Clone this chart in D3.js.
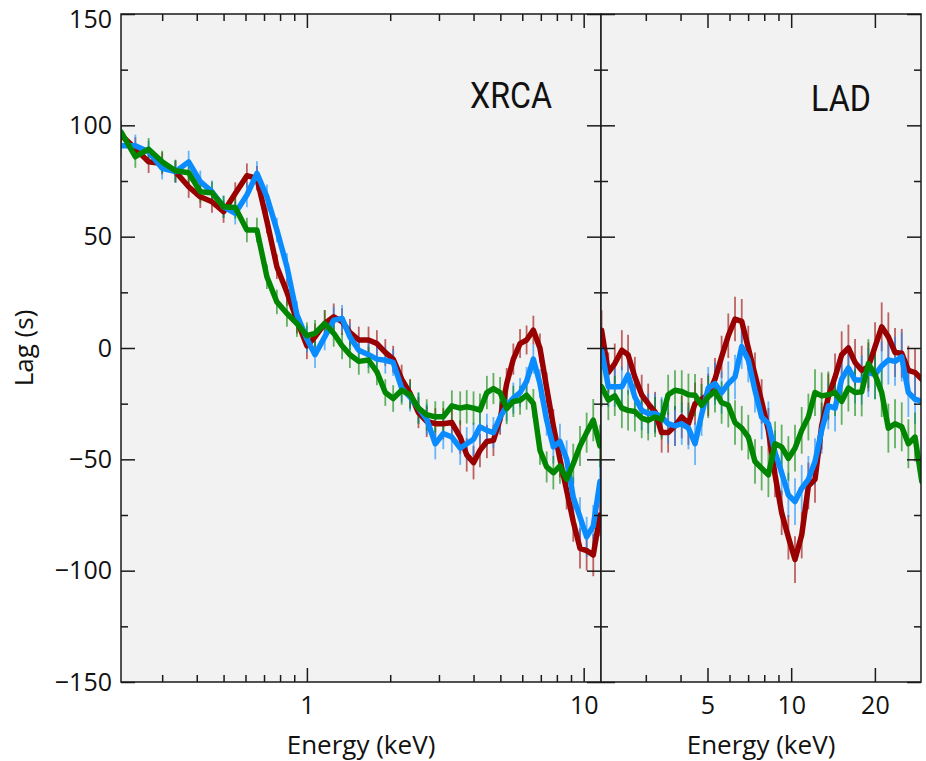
<!DOCTYPE html>
<html>
<head>
<meta charset="utf-8">
<script src="https://cdn.jsdelivr.net/npm/d3@7/dist/d3.min.js"></script>
<style>
  body { margin: 0; background: #ffffff; }
  svg text { font-family: 'Open Sans', 'Noto Sans', sans-serif; fill: #111; }
</style>
</head>
<body>
<div id="chart"></div>
<script>
// XRCA panel (energies in keV, lags in s)
const xrcaEnergy = [0.213, 0.24, 0.268, 0.30, 0.335, 0.374, 0.412, 0.454, 0.50, 0.551, 0.607, 0.66, 0.717, 0.779,
  0.847, 0.92, 1.0, 1.07, 1.16, 1.25, 1.34, 1.43, 1.54, 1.67, 1.79, 1.92, 2.05, 2.2, 2.36, 2.53, 2.71, 2.91,
  3.11, 3.34, 3.58, 3.78, 4.0, 4.22, 4.47, 4.72, 4.99, 5.27, 5.57, 5.89, 6.22, 6.58, 6.95, 7.35, 7.77, 8.21,
  8.68, 9.17, 9.7, 10.25, 10.83, 11.45];
const xrcaRed = [95.6, 89.6, 83.6, 82.9, 79.2, 72.4, 67.9, 65.7, 61.2, 69.4, 77.4, 76.2, 57, 36.5,
  25, 12.5, 1, 5, 11, 14, 11.8, 7, 3.6, 3.6, 2, -2, -5, -14, -20.4, -29, -33, -34,
  -34, -33.5, -40, -48, -51.5, -46, -42, -41.5, -32, -16, -5, 2, 3.6, 8, 0, -18, -35, -50,
  -64, -78, -90, -91, -93, -75];
const xrcaBlue = [90.8, 90.8, 88.1, 80.7, 79.2, 83.6, 74.7, 70.2, 63.4, 60.5, 68.7, 78.4, 67.9, 53,
  36.5, 15, 4, -3, 5, 12.5, 13.3, 5, -1, -3, -5, -5.5, -6.5, -18, -22, -27, -32, -43,
  -38.4, -40, -45, -43, -41, -35.4, -37, -38, -31, -26, -22.5, -20, -15, -5, -16, -32.4, -44.4, -42,
  -50, -67, -76, -84.8, -80, -60];
const xrcaGreen = [97.1, 85.9, 89.3, 83.6, 79.6, 78.7, 70.2, 69.7, 63.4, 63.1, 53, 53, 32, 20.7,
  15.5, 11, 5.5, 6.6, 11, 6.6, 1, -3, -6, -5.4, -10.7, -20, -22.7, -19, -21, -27, -30, -30.9,
  -30.9, -26, -27, -26.4, -27, -27.9, -20, -18.2, -20, -27.2, -24, -23.5, -21.2, -24.9, -45.9, -53.4, -56, -53,
  -59, -52, -44, -38, -32.4, -44];
const xrcaErr = [5, 5, 5, 5, 5, 5, 5, 5, 5, 5, 5.5, 5.5, 5.5, 5.5,
  6, 6, 6, 6, 6, 6, 6, 6, 6, 6, 6, 6, 6, 6.5, 6.5, 7, 7, 7,
  7, 7, 7.5, 7.5, 7.5, 7.5, 7.5, 7, 7, 7, 7, 6.5, 6.5, 6.5, 6.5, 7, 7.5, 8,
  8.5, 9, 9, 9, 9.5, 9.5];

// LAD panel
const ladEnergy = [2.08, 2.20, 2.32, 2.46, 2.59, 2.74, 2.90, 3.06, 3.24, 3.42, 3.61, 3.82, 4.04, 4.27,
  4.51, 4.76, 5.03, 5.32, 5.62, 5.94, 6.28, 6.64, 7.01, 7.41, 7.83, 8.28, 8.75, 9.24, 9.77, 10.32,
  10.91, 11.53, 12.18, 12.87, 13.60, 14.38, 15.19, 16.06, 16.97, 17.93, 18.95, 20.03, 21.16, 22.36,
  23.63, 24.98, 26.39, 27.89, 29.5];
const ladRed = [8, -11, -7, -1, -3, -13, -21, -25, -28.7, -38, -38, -35, -31, -34,
  -25, -23, -21, -14, -4, 5.5, 13, 12, 0, -12, -24, -37, -57, -74, -85, -95,
  -84, -62, -59, -35, -22, -13, -3, 0, -6.5, -10, -8.5, 0.6, 9.5, 5,
  -2, -2.4, -10, -11, -14];
const ladBlue = [-1, -17.4, -17.4, -17.4, -12, -22, -28, -29.4, -29.4, -31, -34, -35, -34, -36,
  -43, -30, -18, -16, -20, -16, -13, 0.6, -5.4, -19, -31, -34, -47, -56, -66, -69,
  -63, -59, -51, -37, -26, -27, -14, -9, -14.4, -14.4, -11, -12, -8, -5.4,
  -6, -4, -20, -23, -24];
const ladGreen = [-17.4, -23.4, -21.5, -27, -28, -28.5, -31.5, -32.5, -31, -32, -21, -19, -19.5, -21,
  -21.2, -25.7, -22, -19.5, -24.5, -25.7, -33.5, -36, -40, -51, -54, -57, -43, -44.4, -49.6, -45,
  -37, -31, -20, -21.5, -21, -20, -24, -18, -20, -19.7, -7, -12, -20, -36,
  -34, -35.4, -43, -40, -60];
const ladErr = [9, 9, 9, 9, 9, 9, 9, 9, 9, 9, 9, 9, 9.5, 9.5,
  9.5, 9.5, 9.5, 9.5, 9.5, 10, 10, 10, 10, 10, 10, 10, 10, 10, 10, 10.5,
  10.5, 10.5, 10.5, 10.5, 10.5, 10.5, 10.5, 10.5, 10.5, 11, 11, 11, 11, 11,
  11, 11, 11, 11, 11];

const seriesColors = ['#990000', '#0a8cff', '#008600'];

// ticks
const yTickValues = [-150, -100, -50, 0, 50, 100, 150];
const yTickLabels = ['\u2212150', '\u2212100', '\u221250', '0', '50', '100', '150'];
const yMinorTicks = [-125, -75, -25, 25, 75, 125];
const xrcaMajorTicks = [1, 10];
const xrcaMinorTicks = [0.3, 0.4, 0.5, 0.6, 0.7, 0.8, 0.9, 2, 3, 4, 5, 6, 7, 8, 9];
const ladMajorTicks = [5, 10, 20];
const ladMinorTicks = [3, 4, 6, 7, 8, 9];

const width = 926;
const height = 761;
const plotTop = 14;
const plotBottom = 682;
const axisColor = '#1a1a1a';

const svg = d3
  .select('#chart')
  .append('svg')
  .attr('width', width)
  .attr('height', height);

const y = d3.scaleLinear().domain([-150, 150]).range([plotBottom, plotTop]);

const panels = [
  {
    id: 'xrca', name: 'XRCA', left: 121, right: 601, domain: [0.213, 11.55],
    energy: xrcaEnergy, series: [xrcaRed, xrcaBlue, xrcaGreen], err: xrcaErr,
    major: xrcaMajorTicks, minor: xrcaMinorTicks, nameX: 470, nameY: 108,
  },
  {
    id: 'lad', name: 'LAD', left: 601, right: 921, domain: [2.07, 29.3],
    energy: ladEnergy, series: [ladRed, ladBlue, ladGreen], err: ladErr,
    major: ladMajorTicks, minor: ladMinorTicks, nameX: 811, nameY: 111,
  },
];

function styleAxis(g) {
  g.select('.domain').remove();
  g.selectAll('.tick line').attr('stroke', axisColor).attr('stroke-width', 1.5);
  g.attr('font-family', null).attr('font-size', null);
  g.selectAll('.tick text').attr('font-size', 25).attr('fill', '#111');
}

panels.forEach((p) => {
  const x = d3.scaleLog().domain(p.domain).range([p.left, p.right]);

  svg
    .append('rect')
    .attr('x', p.left)
    .attr('y', plotTop)
    .attr('width', p.right - p.left)
    .attr('height', plotBottom - plotTop)
    .attr('fill', '#f2f2f2');

  svg
    .append('clipPath')
    .attr('id', 'clip-' + p.id)
    .append('rect')
    .attr('x', p.left)
    .attr('y', plotTop)
    .attr('width', p.right - p.left)
    .attr('height', plotBottom - plotTop);

  const plot = svg.append('g').attr('clip-path', `url(#clip-${p.id})`);

  // error bars
  p.series.forEach((vals, s) => {
    plot
      .append('g')
      .selectAll('line')
      .data(vals)
      .enter()
      .append('line')
      .attr('x1', (d, i) => x(p.energy[i]))
      .attr('x2', (d, i) => x(p.energy[i]))
      .attr('y1', (d, i) => y(d - p.err[i]))
      .attr('y2', (d, i) => y(d + p.err[i]))
      .attr('stroke', seriesColors[s])
      .attr('stroke-opacity', 0.6)
      .attr('stroke-width', 1.8);
  });

  // lines
  p.series.forEach((vals, s) => {
    const line = d3
      .line()
      .x((d, i) => x(p.energy[i]))
      .y((d) => y(d));
    plot
      .append('path')
      .datum(vals)
      .attr('d', line)
      .attr('fill', 'none')
      .attr('stroke', seriesColors[s])
      .attr('stroke-width', 5.5)
      .attr('stroke-linejoin', 'round')
      .attr('stroke-linecap', 'round');
  });

  // bottom and top ticks
  svg
    .append('g')
    .attr('transform', `translate(0,${plotBottom})`)
    .call(d3.axisBottom(x).tickValues(p.major).tickSizeInner(-14).tickSizeOuter(0).tickPadding(14).tickFormat((d) => String(d)))
    .call(styleAxis);
  svg
    .append('g')
    .attr('transform', `translate(0,${plotBottom})`)
    .call(d3.axisBottom(x).tickValues(p.minor).tickSizeInner(-7).tickSizeOuter(0).tickFormat(''))
    .call(styleAxis);
  svg
    .append('g')
    .attr('transform', `translate(0,${plotTop})`)
    .call(d3.axisTop(x).tickValues(p.major).tickSizeInner(-14).tickSizeOuter(0).tickFormat(''))
    .call(styleAxis);
  svg
    .append('g')
    .attr('transform', `translate(0,${plotTop})`)
    .call(d3.axisTop(x).tickValues(p.minor).tickSizeInner(-7).tickSizeOuter(0).tickFormat(''))
    .call(styleAxis);

  // left and right ticks (pointing into the panel)
  const leftMajor = d3.axisLeft(y).tickValues(yTickValues).tickSizeInner(-14).tickSizeOuter(0).tickPadding(9);
  if (p.id === 'xrca') {
    leftMajor.tickFormat((d, i) => yTickLabels[i]);
  } else {
    leftMajor.tickFormat('');
  }
  const leftAxis = svg
    .append('g')
    .attr('transform', `translate(${p.left},0)`)
    .call(leftMajor)
    .call(styleAxis);
  leftAxis.selectAll('.tick text').filter((d) => d === 150).attr('dy', '0.52em');
  svg
    .append('g')
    .attr('transform', `translate(${p.left},0)`)
    .call(d3.axisLeft(y).tickValues(yMinorTicks).tickSizeInner(-7).tickSizeOuter(0).tickFormat(''))
    .call(styleAxis);
  svg
    .append('g')
    .attr('transform', `translate(${p.right},0)`)
    .call(d3.axisRight(y).tickValues(yTickValues).tickSizeInner(-14).tickSizeOuter(0).tickFormat(''))
    .call(styleAxis);
  svg
    .append('g')
    .attr('transform', `translate(${p.right},0)`)
    .call(d3.axisRight(y).tickValues(yMinorTicks).tickSizeInner(-7).tickSizeOuter(0).tickFormat(''))
    .call(styleAxis);

  // frame
  svg
    .append('rect')
    .attr('x', p.left)
    .attr('y', plotTop)
    .attr('width', p.right - p.left)
    .attr('height', plotBottom - plotTop)
    .attr('fill', 'none')
    .attr('stroke', axisColor)
    .attr('stroke-width', 1.5);

  // panel name, a condensed face
  svg
    .append('text')
    .attr('transform', `translate(${p.nameX},${p.nameY}) scale(0.86,1)`)
    .attr('font-size', 37.5)
    .style('font-family', 'Roboto, sans-serif')
    .text(p.name);

  // x axis title
  svg
    .append('text')
    .attr('x', (p.left + p.right) / 2)
    .attr('y', 754)
    .attr('text-anchor', 'middle')
    .attr('font-size', 26)
    .text('Energy (keV)');
});

svg
  .append('text')
  .attr('transform', 'translate(33,348) rotate(-90)')
  .attr('text-anchor', 'middle')
  .attr('font-size', 26)
  .text('Lag (s)');
</script>
</body>
</html>
